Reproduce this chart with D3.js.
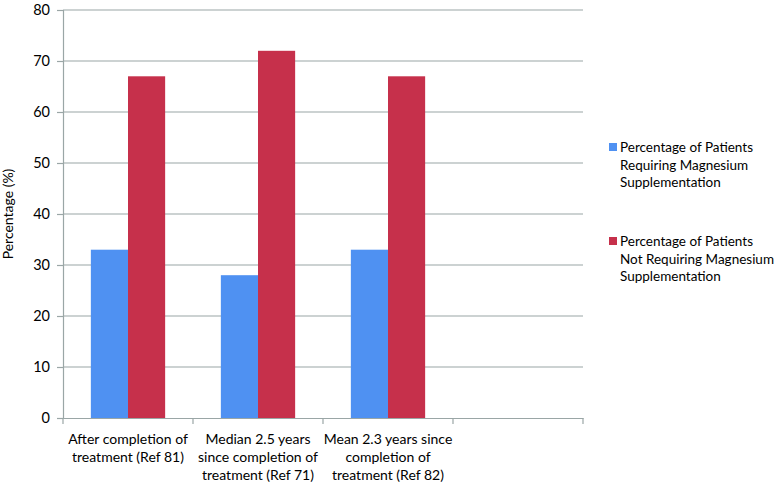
<!DOCTYPE html>
<html><head><meta charset="utf-8">
<script src="https://cdn.jsdelivr.net/npm/d3@7"></script>
<style>body{margin:0;background:#fff}svg{display:block}text{font-family:Lato,"Open Sans",sans-serif;fill:#000}</style>
</head><body><svg id="c" width="777" height="482"></svg>
<script>
const categories = [
  ["After completion of","treatment (Ref 81)"],
  ["Median 2.5 years","since completion of","treatment (Ref 71)"],
  ["Mean 2.3 years since","completion of","treatment (Ref 82)"],
  [""]
];
const catKeys = ["c1","c2","c3","c4"];
const seriesNames = [
  ["Percentage of Patients","Requiring Magnesium","Supplementation"],
  ["Percentage of Patients","Not Requiring Magnesium","Supplementation"]
];
const requiring = [33, 28, 33, null];
const notRequiring = [67, 72, 67, null];
const yTicks = [0,10,20,30,40,50,60,70,80];
const colors = ["#4f91f2","#c6304b"];

const svg = d3.select("#c");
const L=63, R=583, T=10, B=418;
const x = d3.scaleBand().domain(catKeys).range([L,R]).paddingInner(0).paddingOuter(0);
const inner = d3.scaleBand().domain([0,1]).range([0,x.bandwidth()]).paddingInner(0).paddingOuter(0.75);
const y = d3.scaleLinear().domain([0,80]).range([B,T]);
const grid="#9aa6a6";

svg.append("g").selectAll("line").data(yTicks.slice(1)).join("line")
  .attr("x1",L).attr("x2",R).attr("y1",d=>y(d)).attr("y2",d=>y(d)).attr("stroke",grid).attr("stroke-width",1.2);

const series=[requiring,notRequiring];
series.forEach((s,si)=>{
  svg.append("g").selectAll("rect").data(s.map((v,i)=>({v,k:catKeys[i]})).filter(d=>d.v!=null)).join("rect")
    .attr("x",d=>x(d.k)+inner(si)).attr("width",inner.bandwidth())
    .attr("y",d=>y(d.v)).attr("height",d=>B-y(d.v)).attr("fill",colors[si]);
});

const ya = svg.append("g").attr("transform",`translate(${L},0)`)
  .call(d3.axisLeft(y).tickValues(yTicks).tickSize(6).tickPadding(7));
ya.select(".domain").attr("stroke",grid).attr("stroke-width",1.2);
ya.selectAll(".tick line").attr("stroke",grid).attr("stroke-width",1.2);
ya.selectAll(".tick text").style("font-size","14.5px").attr("fill","#000");

const xa = svg.append("g").attr("transform",`translate(0,${B})`)
  .call(d3.axisBottom(x).tickSize(0).tickFormat(""));
xa.select(".domain").attr("stroke",grid).attr("stroke-width",1.2);
svg.append("g").selectAll("line").data(d3.range(catKeys.length+1)).join("line")
  .attr("x1",i=>L+i*x.step()).attr("x2",i=>L+i*x.step()).attr("y1",B).attr("y2",B+6)
  .attr("stroke",grid).attr("stroke-width",1.2);

categories.forEach((lines,i)=>{
  const t=svg.append("text").attr("text-anchor","middle").style("font-size","14px");
  lines.forEach((ln,j)=>t.append("tspan").attr("x",x(catKeys[i])+x.bandwidth()/2).attr("y",444+j*18).text(ln));
});

svg.append("text").attr("transform","translate(13,214) rotate(-90)").attr("text-anchor","middle")
  .style("font-size","14px").text("Percentage (%)");

const legY=[147,241];
seriesNames.forEach((lines,si)=>{
  svg.append("rect").attr("x",609).attr("y",legY[si]-4).attr("width",8).attr("height",8).attr("fill",colors[si]);
  const t=svg.append("text").style("font-size","13.5px");
  lines.forEach((ln,j)=>t.append("tspan").attr("x",620).attr("y",legY[si]+5+j*17.5).text(ln));
});
</script></body></html>
